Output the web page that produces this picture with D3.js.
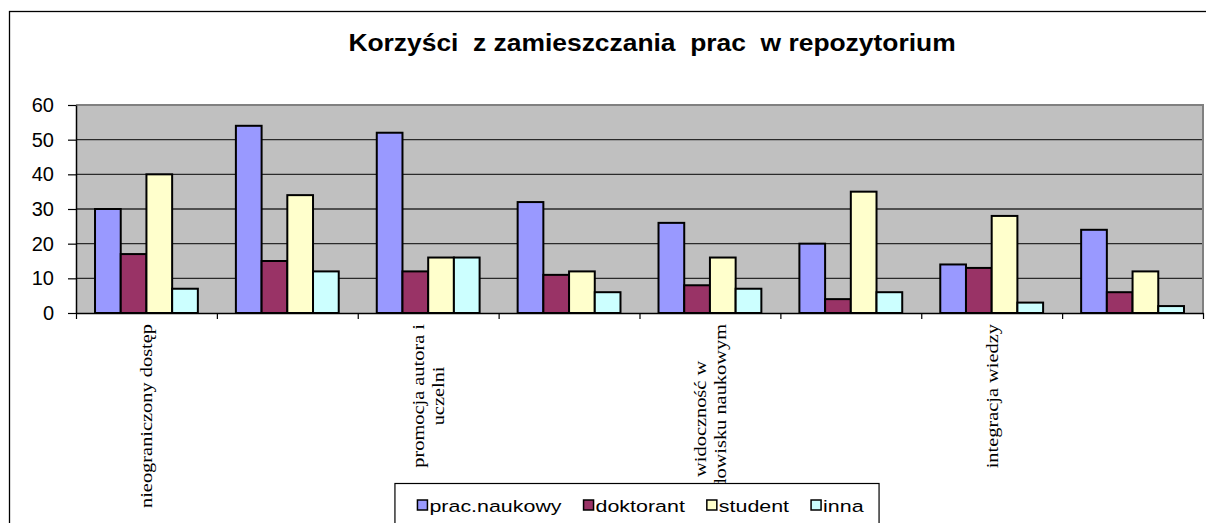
<!DOCTYPE html>
<html>
<head>
<meta charset="utf-8">
<script src="https://cdn.jsdelivr.net/npm/d3@7"></script>
<style>
  body { margin: 0; background: #fff; }
  svg { display: block; }
</style>
</head>
<body>
<script>
// Data
const categories = [
  'nieograniczony dostęp',
  '',
  'promocja autora i\nuczelni',
  '',
  'widoczność w\nśrodowisku naukowym',
  '',
  'integracja wiedzy',
  ''
];
const seriesNames = ['prac.naukowy', 'doktorant', 'student', 'inna'];
const pracNaukowy = [30, 54, 52, 32, 26, 20, 14, 24];
const doktorant = [17, 15, 12, 11, 8, 4, 13, 6];
const student = [40, 34, 16, 12, 16, 35, 28, 12];
const inna = [7, 12, 16, 6, 7, 6, 3, 2];
const yTicks = [0, 10, 20, 30, 40, 50, 60];
const colors = ['#9999ff', '#993366', '#ffffcc', '#ccffff'];
const title = 'Korzyści  z zamieszczania  prac  w repozytorium';

const series = [pracNaukowy, doktorant, student, inna];

const width = 1206;
const height = 523;
const plot = { left: 76, right: 1203, top: 105, bottom: 313 };

const svg = d3.select('body').append('svg')
  .attr('width', width)
  .attr('height', height)
  .style('font-family', '"Liberation Sans", Arial, sans-serif');

svg.append('rect').attr('width', width).attr('height', height).attr('fill', '#fff');

// chart frame (runs off the right and bottom edge)
svg.append('rect')
  .attr('x', 9.5).attr('y', 11.5)
  .attr('width', 1400).attr('height', 700)
  .attr('fill', 'none').attr('stroke', '#000').attr('stroke-width', 1.3);

// title
svg.append('text')
  .attr('transform', 'translate(652, 51) scale(1.1, 1)')
  .attr('text-anchor', 'middle')
  .style('font-size', '24px')
  .style('font-weight', 'bold')
  .style('white-space', 'pre')
  .text(title);

// scales
const x0 = d3.scaleBand()
  .domain(d3.range(categories.length))
  .range([plot.left, plot.right])
  .paddingInner(0.27)
  .paddingOuter(0.135);

const x1 = d3.scaleBand()
  .domain(d3.range(series.length))
  .range([0, x0.bandwidth()]);

const xEdge = d3.scaleLinear()
  .domain([0, categories.length])
  .range([plot.left, plot.right]);

const y = d3.scaleLinear().domain([0, 60]).range([plot.bottom, plot.top]);

// plot area
svg.append('rect')
  .attr('x', plot.left).attr('y', plot.top)
  .attr('width', plot.right - plot.left).attr('height', plot.bottom - plot.top)
  .attr('fill', '#c0c0c0');

svg.append('g')
  .selectAll('line')
  .data(yTicks.filter(t => t > 0 && t < 60))
  .enter()
  .append('line')
    .attr('x1', plot.left).attr('x2', plot.right)
    .attr('y1', d => y(d)).attr('y2', d => y(d))
    .attr('stroke', '#2a2a2a')
    .attr('stroke-width', 1.4);

// gray top / right edge of the plot area
svg.append('path')
  .attr('d', `M${plot.left},${plot.top}H${plot.right}V${plot.bottom}`)
  .attr('fill', 'none')
  .attr('stroke', '#808080')
  .attr('stroke-width', 2);

// bars
const groups = svg.append('g')
  .selectAll('g')
  .data(categories.map((c, i) => i))
  .enter()
  .append('g')
    .attr('transform', i => `translate(${x0(i)},0)`);

groups.selectAll('rect')
  .data(i => series.map((s, k) => ({ k, value: s[i] })))
  .enter()
  .append('rect')
    .attr('x', d => x1(d.k))
    .attr('y', d => y(d.value))
    .attr('width', x1.bandwidth())
    .attr('height', d => y(0) - y(d.value))
    .attr('fill', d => colors[d.k])
    .attr('stroke', '#000')
    .attr('stroke-width', 2);

// y axis
const yAxis = svg.append('g')
  .attr('transform', `translate(${plot.left},0)`)
  .call(d3.axisLeft(y).tickValues(yTicks).tickSize(8).tickSizeOuter(0).tickPadding(14));
yAxis.select('.domain').attr('stroke', '#000').attr('stroke-width', 1.5);
yAxis.selectAll('.tick line').attr('stroke', '#000').attr('stroke-width', 1.2);
yAxis.selectAll('.tick text')
  .attr('fill', '#000')
  .style('font-size', '20px')
  .style('font-family', '"Liberation Sans", Arial, sans-serif');

// x axis, ticks between the categories
const xAxis = svg.append('g')
  .attr('transform', `translate(0,${plot.bottom})`)
  .call(d3.axisBottom(xEdge).tickValues(d3.range(categories.length + 1)).tickSize(6).tickSizeOuter(0).tickFormat(''));
xAxis.select('.domain').attr('stroke', '#000').attr('stroke-width', 1.5);
xAxis.selectAll('.tick line').attr('stroke', '#000').attr('stroke-width', 1.2);

// category labels, rotated, only every other one fits
const labelTop = 324;
const labelStretch = 1.2;
const lineHeight = 20;

const labels = svg.append('g')
  .selectAll('g')
  .data(categories.map((c, i) => i).filter(i => categories[i] !== ''))
  .enter()
  .append('g')
    .attr('transform', i => `translate(${x0(i) + x0.bandwidth() / 2},${labelTop}) rotate(-90) scale(${labelStretch},1)`);

labels.each(function (i) {
  const g = d3.select(this);
  const lines = categories[i].split('\n');
  const texts = lines.map((line, n) => g.append('text')
    .attr('y', (n - (lines.length - 1) / 2) * lineHeight)
    .attr('dy', '0.35em')
    .attr('text-anchor', 'middle')
    .style('font-family', '"Liberation Serif", "Times New Roman", serif')
    .style('font-size', '17px')
    .text(line));
  const longest = d3.max(texts, t => t.node().getComputedTextLength());
  texts.forEach(t => t.attr('x', -longest / 2));
});

// legend
const legendStretch = 1.26;
const legend = svg.append('g');
const legendBox = legend.append('rect')
  .attr('fill', '#fff')
  .attr('stroke', '#000')
  .attr('stroke-width', 1.2);
const items = legend.append('g');
let cursor = 0;
seriesNames.forEach((name, k) => {
  const item = items.append('g').attr('transform', `translate(${cursor},0)`);
  item.append('rect')
    .attr('x', 0).attr('y', -12)
    .attr('width', 10).attr('height', 10)
    .attr('fill', colors[k])
    .attr('stroke', '#000')
    .attr('stroke-width', 1.5);
  const t = item.append('text')
    .attr('transform', `translate(12,0) scale(${legendStretch},1)`)
    .style('font-size', '17px')
    .text(name);
  cursor += 12 + t.node().getComputedTextLength() * legendStretch + 22;
});
const contentWidth = cursor - 22;
const legendCenter = (plot.left + plot.right) / 2 + 1;
const legendLeft = legendCenter - contentWidth / 2;
items.attr('transform', `translate(${legendLeft},512)`);
legendBox
  .attr('x', legendLeft - 22.5)
  .attr('y', 483.5)
  .attr('width', contentWidth + 38)
  .attr('height', 80);
</script>
</body>
</html>
